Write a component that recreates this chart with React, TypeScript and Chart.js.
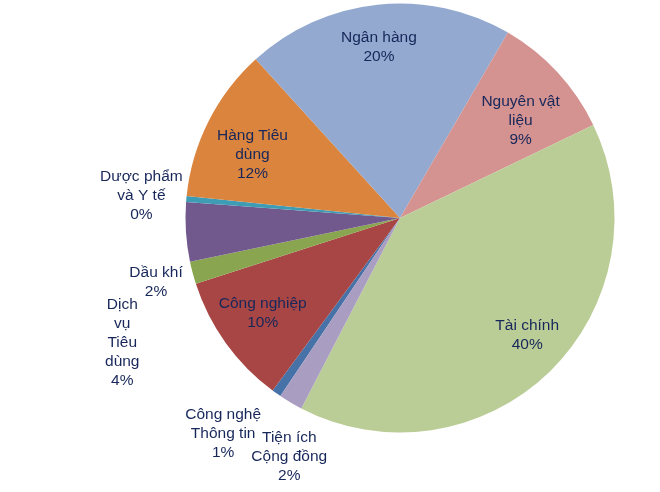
import { useEffect, useRef } from 'react'
import Chart from 'chart.js/auto'
import type { Plugin } from 'chart.js'

// Thứ tự theo bảng chữ cái, bắt đầu từ Công nghệ Thông tin
const sectors: string[][] = [
  ['Công nghệ', 'Thông tin'],
  ['Công nghiệp'],
  ['Dầu khí'],
  ['Dịch', 'vụ', 'Tiêu', 'dùng'],
  ['Dược phẩm', 'và Y tế'],
  ['Hàng Tiêu', 'dùng'],
  ['Ngân hàng'],
  ['Nguyên vật', 'liệu'],
  ['Tài chính'],
  ['Tiện ích', 'Cộng đồng'],
]

const shares = [0.7, 9.9, 1.7, 4.45, 0.45, 11.6, 20.1, 9.45, 39.7, 1.8]

const sliceColors = [
  '#4672A8',
  '#A74644',
  '#8AA54F',
  '#71598E',
  '#3E9DB5',
  '#DA843E',
  '#93A9CF',
  '#D49290',
  '#BBCD97',
  '#A99DC1',
]

// [radius factor, angle shift in degrees] relative to each slice's middle
const labelPlacement: [number, number][] = [
  [1.3, 4.2],
  [0.78, 0.9],
  [1.176, 0.1],
  [1.42, -20.5],
  [1.21, -0.2],
  [0.748, -3.7],
  [0.803, -1],
  [0.722, 3.9],
  [0.806, -3.2],
  [1.228, -5.8],
]

const LABEL_COLOR = '#17275A'
const LABEL_FONT = '15.5px "Liberation Sans", Arial, sans-serif'
const LINE_HEIGHT = 19

const sliceLabels: Plugin<'pie'> = {
  id: 'sliceLabels',
  afterDatasetsDraw(chart) {
    const { ctx } = chart
    const meta = chart.getDatasetMeta(0)
    const values = chart.data.datasets[0].data as number[]
    const total = values.reduce((sum, v) => sum + v, 0)

    ctx.save()
    ctx.font = LABEL_FONT
    ctx.fillStyle = LABEL_COLOR
    ctx.textAlign = 'center'
    ctx.textBaseline = 'middle'

    meta.data.forEach((element, index) => {
      const { x, y, startAngle, endAngle, outerRadius } = element.getProps(
        ['x', 'y', 'startAngle', 'endAngle', 'outerRadius'],
        true,
      ) as unknown as {
        x: number
        y: number
        startAngle: number
        endAngle: number
        outerRadius: number
      }
      const [factor, shift] = labelPlacement[index]
      const angle = (startAngle + endAngle) / 2 + (shift * Math.PI) / 180
      const cx = x + Math.cos(angle) * outerRadius * factor
      const cy = y + Math.sin(angle) * outerRadius * factor

      const percent = `${Math.round((values[index] / total) * 100)}%`
      const lines = [...sectors[index], percent]
      lines.forEach((line, i) => {
        ctx.fillText(line, cx, cy + (i - (lines.length - 1) / 2) * LINE_HEIGHT)
      })
    })

    ctx.restore()
  },
}

function App() {
  const canvasRef = useRef<HTMLCanvasElement | null>(null)

  useEffect(() => {
    if (!canvasRef.current) {
      return undefined
    }

    const chart = new Chart(canvasRef.current, {
      type: 'pie',
      data: {
        labels: sectors,
        datasets: [
          {
            data: shares,
            backgroundColor: sliceColors,
            borderWidth: 0,
          },
        ],
      },
      options: {
        responsive: true,
        maintainAspectRatio: false,
        animation: false,
        rotation: 213.9,
        layout: {
          padding: { top: 3.5, bottom: 59.5, left: 185.5, right: 45.5 },
        },
        plugins: {
          legend: { display: false },
          tooltip: { enabled: false },
        },
      },
      plugins: [sliceLabels],
    })

    return () => {
      chart.destroy()
    }
  }, [])

  return (
    <div
      style={{
        position: 'fixed',
        top: 0,
        left: 0,
        width: 660,
        height: 492,
        background: '#ffffff',
      }}
    >
      <canvas ref={canvasRef} />
    </div>
  )
}

export default App
